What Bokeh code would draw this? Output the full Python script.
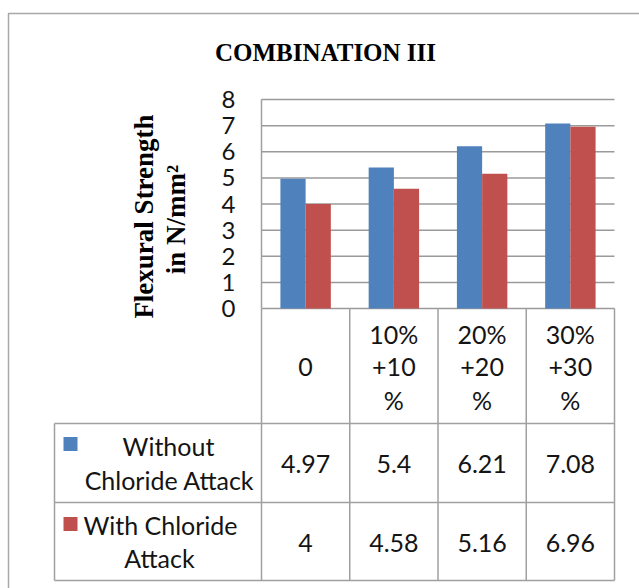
import numpy as np
from bokeh.plotting import figure
from bokeh.models import Range1d
from bokeh.core.properties import value
from bokeh.embed import file_html
from bokeh.resources import INLINE

# ---- data ----
categories = ["0", "10%\n+10\n%", "20%\n+20\n%", "30%\n+30\n%"]
series_names = ["Without\nChloride Attack", "With Chloride\nAttack"]
without_chloride = [4.97, 5.4, 6.21, 7.08]
with_chloride = [4.0, 4.58, 5.16, 6.96]
y_ticks = [0, 1, 2, 3, 4, 5, 6, 7, 8]
title_text = "COMBINATION III"
y_title_lines = ["Flexural Strength", "in N/mm\u00b2"]

# ---- layout (canvas pixels) ----
W, H = 639, 588
PX0, PX1 = 261, 614          # plot area left / right
PY_TOP, PY_ZERO = 99, 308    # y of top tick and of zero line
T_LEFT = 54                  # table left edge
ROW_Y = [423, 502, 580]      # table row boundaries under the header
YMAX = y_ticks[-1]
n = len(categories)
CW = (PX1 - PX0) / n
ppu = (PY_ZERO - PY_TOP) / YMAX

BLUE, RED = "#4F81BD", "#C0504D"
GRID = "#9A9A9A"
TXT = "#141414"
SANS = value("Lato")
SERIF = value("Liberation Serif")
CELL_FS = "25px"

p = figure(width=W, height=H, x_range=Range1d(0, W), y_range=Range1d(H, 0),
           x_axis_type=None, y_axis_type=None, toolbar_location=None,
           output_backend="svg", min_border=0)
p.outline_line_color = None
p.background_fill_color = "white"
p.border_fill_color = "white"

# value range for bar heights, and a category range for bar positions
p.extra_y_ranges = {"val": Range1d(-(H - PY_ZERO) / ppu, YMAX + PY_TOP / ppu)}
p.extra_x_ranges = {"cat": Range1d(-PX0 / CW, (W - PX0) / CW)}

# outer chart border
p.line(x=[8, 8, W + 5], y=[H + 5, 13, 13], line_color="#A8A8A8", line_width=1.5)

# horizontal gridlines
p.segment(x0=[PX0] * len(y_ticks), x1=[PX1] * len(y_ticks), y0=y_ticks, y1=y_ticks,
          y_range_name="val", line_color=GRID, line_width=1.5)

# bars (Excel-style 150% gap)
bw = 1 / 3.5
idx = np.arange(n) + 0.5
p.vbar(x=idx - bw / 2, width=bw, top=without_chloride, bottom=0,
       x_range_name="cat", y_range_name="val", fill_color=BLUE, line_color=None)
p.vbar(x=idx + bw / 2, width=bw, top=with_chloride, bottom=0,
       x_range_name="cat", y_range_name="val", fill_color=RED, line_color=None)

# y tick labels
p.text(x=[235] * len(y_ticks), y=y_ticks, text=[str(t) for t in y_ticks],
       y_range_name="val", text_font=SANS, text_font_size="24px",
       text_align="right", text_baseline="middle", text_color=TXT)

# table lines
col_x = [PX0 + k * CW for k in range(n + 1)]
TL = "#A0A0A0"
p.segment(x0=col_x, x1=col_x, y0=[PY_ZERO] * (n + 1), y1=[ROW_Y[-1]] * (n + 1),
          line_color=TL, line_width=1.5)
p.segment(x0=[PX0], x1=[PX0], y0=[PY_TOP], y1=[PY_ZERO], line_color=TL, line_width=1.5)
p.segment(x0=[T_LEFT] * 3, x1=[PX1] * 3, y0=ROW_Y, y1=ROW_Y, line_color=TL, line_width=1.5)
p.segment(x0=[T_LEFT], x1=[T_LEFT], y0=[ROW_Y[0]], y1=[ROW_Y[-1]], line_color=TL, line_width=1.5)

# header row: category labels, one text per line
LH = 33
hdr_mid = (PY_ZERO + ROW_Y[0]) / 2 + 1
hx, hy, ht = [], [], []
for i, c in enumerate(categories):
    lines = c.split("\n")
    for k, ln in enumerate(lines):
        hx.append(PX0 + (i + 0.5) * CW)
        hy.append(hdr_mid + (k - (len(lines) - 1) / 2) * LH)
        ht.append(ln)
p.text(x=hx, y=hy, text=ht, text_font=SANS, text_font_size=CELL_FS,
       text_align="center", text_baseline="middle", text_color=TXT)

# value rows
for r, vals in enumerate([without_chloride, with_chloride]):
    mid = (ROW_Y[r] + ROW_Y[r + 1]) / 2 + 1
    p.text(x=[PX0 + (i + 0.5) * CW for i in range(n)], y=[mid] * n,
           text=[f"{v:g}" for v in vals], text_font=SANS, text_font_size=CELL_FS,
           text_align="center", text_baseline="middle", text_color=TXT)

# legend keys and series names
key_y = [443.5, 523.5]
p.rect(x=[70, 70], y=key_y, width=14, height=14, fill_color=[BLUE, RED], line_color=None)
name_pos = [[(168, 445), (169, 479)], [(160, 524), (159, 557)]]
nx, ny, nt = [], [], []
for s, name in enumerate(series_names):
    for (x, y), ln in zip(name_pos[s], name.split("\n")):
        nx.append(x)
        ny.append(y)
        nt.append(ln)
p.text(x=nx, y=ny, text=nt, text_font=SANS, text_font_size=CELL_FS,
       text_align="center", text_baseline="middle", text_color=TXT)

# chart title
p.text(x=[325], y=[52], text=[title_text], text_font=SERIF, text_font_size="25px",
       text_font_style="bold", text_align="center", text_baseline="middle", text_color="#000000")

# rotated y-axis title
p.text(x=[143, 175], y=[216, 219], text=y_title_lines, angle=np.pi / 2,
       text_font=SERIF, text_font_size="27px", text_font_style="bold",
       text_align="center", text_baseline="middle", text_color="#000000")

open("out.html", "w").write(file_html(p, INLINE))
